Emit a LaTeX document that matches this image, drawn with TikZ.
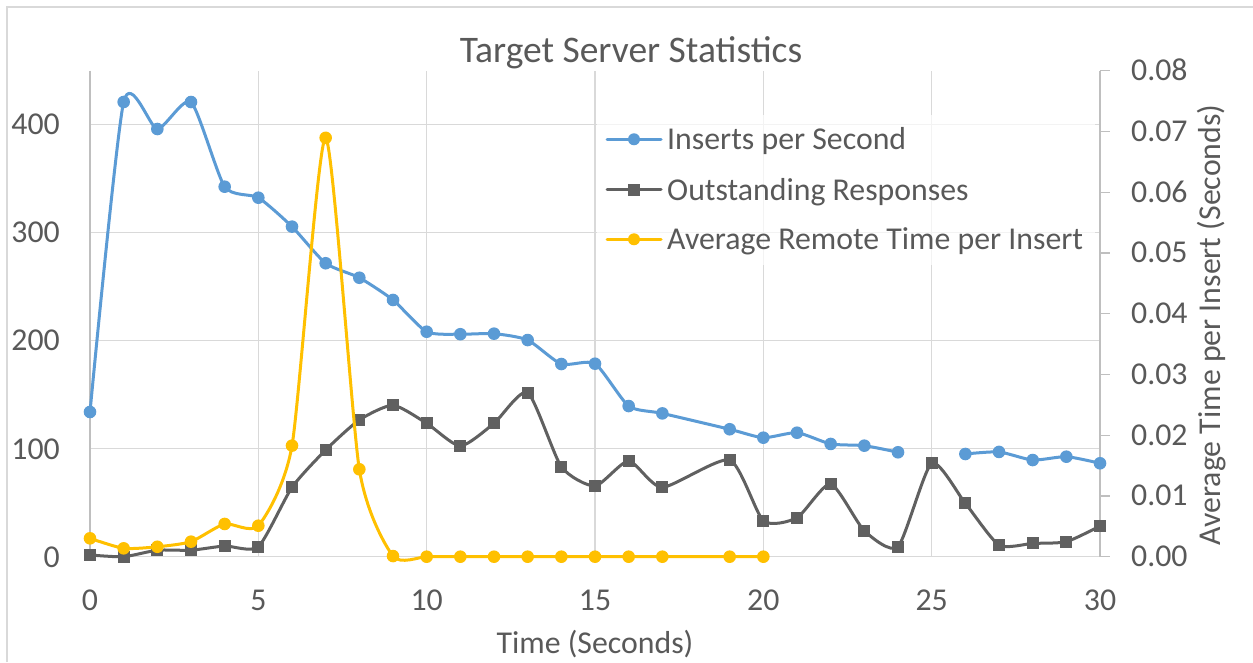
\documentclass[tikz,border=0pt]{standalone}
\usepackage{fontspec}
\setmainfont{Carlito}
\definecolor{serA}{HTML}{5B9BD5}
\definecolor{serB}{HTML}{606060}
\definecolor{serC}{HTML}{FFC000}
\definecolor{gridc}{HTML}{D9D9D9}
\definecolor{axisc}{HTML}{BFBFBF}
\definecolor{txt}{HTML}{595959}
\begin{document}
\begin{tikzpicture}[x=1pt,y=1pt,
  lbl/.style={font=\fontsize{31.8}{36}\selectfont, text=txt, inner sep=0pt},
  ttl/.style={font=\fontsize{37.5}{42}\selectfont, text=txt, inner sep=0pt},
  gridline/.style={draw=gridc, line width=1.3pt},
  axisline/.style={draw=axisc, line width=1.3pt},
  serline/.style={line width=3pt, line cap=round, line join=round},
]
\useasboundingbox (0,0) rectangle (1253,662);
\fill[white] (0,0) rectangle (1253,662);
\draw[draw=gridc, line width=1.5pt] (7,0) -- (7,655) -- (1253,655);
% title
\node[ttl, anchor=base] (title) at (631,599.3) {Target Server Statistics};
\begin{scope}[shift={(90,105.3)}, x=33.667pt, y=1.08pt]
  \foreach \v in {100,200,300,400} \draw[gridline] (0,\v) -- (30,\v);
  \foreach \t in {5,10,15,20,25} \draw[gridline] (\t,0) -- (\t,450);
  \draw[axisline] (0,450) -- (0,0);
  \draw[gridline] (0,0) -- (30,0);
  \draw[axisline] (30,0) -- (30,450);
  \foreach \k in {0,...,8} \draw[axisline] (30,56.25*\k) -- ++(10pt,0pt);
  % left labels
  \foreach \v in {0,100,200,300,400}
    \path (0,\v) ++(-30pt,-10.3pt) node[lbl, anchor=base east] {\v};
  % bottom labels
  \foreach \t in {0,5,10,15,20,25,30}
    \path (\t,0) ++(0pt,-53.3pt) node[lbl, anchor=base] {\t};
  % right labels
  \foreach \k in {0,...,8}
    \path (30,56.25*\k) ++(31pt,-10pt) node[lbl, anchor=base west] {0.0\k};
\end{scope}
% legend background
\fill[white, opacity=0.7] (597,397) rectangle (1095,547);
\begin{scope}[shift={(90,105.3)}, x=33.667pt, y=1.08pt]
  \draw[serline, serA] plot[smooth, tension=0.38] coordinates {
    (0,134) (1,421) (2,396) (3,421) (4,342.6) (5,332.4) (6,305.6) (7,271.7)
    (8,258.3) (9,237.7) (10,208.3) (11,206) (12,206.5) (13,200.6) (14,178.4)
    (15,178.7) (16,139.5) (17,132.7) (19,118) (20,110.2) (21,114.8) (22,104.4)
    (23,102.8) (24,96.7)};
  \draw[serline, serA] plot[smooth, tension=0.38] coordinates {
    (26,95.1) (27,97) (28,89.5) (29,92.6) (30,86.5)};
  \foreach \p in {(0,134),(1,421),(2,396),(3,421),(4,342.6),(5,332.4),(6,305.6),
    (7,271.7),(8,258.3),(9,237.7),(10,208.3),(11,206),(12,206.5),(13,200.6),
    (14,178.4),(15,178.7),(16,139.5),(17,132.7),(19,118),(20,110.2),(21,114.8),
    (22,104.4),(23,102.8),(24,96.7),(26,95.1),(27,97),(28,89.5),(29,92.6),(30,86.5)}
    \fill[serA] \p circle[radius=6.3pt];
  \draw[serline, serB] plot[smooth, tension=0.38] coordinates {
    (0,1.6) (1,0) (2,6) (3,6) (4,9.9) (5,9.3) (6,64.2) (7,98.8) (8,126.6)
    (9,140.2) (10,123.5) (11,102.5) (12,123.5) (13,151.9) (14,83.3) (15,65.5)
    (16,88.6) (17,64.2) (19,89.5) (20,33.3) (21,36.1) (22,67.3) (23,24)
    (24,9.3) (25,86.5) (26,49.4) (27,10.8) (28,12.3) (29,13.9) (30,28.4)};
  \foreach \p in {(0,1.6),(1,0),(2,6),(3,6),(4,9.9),(5,9.3),(6,64.2),(7,98.8),
    (8,126.6),(9,140.2),(10,123.5),(11,102.5),(12,123.5),(13,151.9),(14,83.3),
    (15,65.5),(16,88.6),(17,64.2),(19,89.5),(20,33.3),(21,36.1),(22,67.3),(23,24),
    (24,9.3),(25,86.5),(26,49.4),(27,10.8),(28,12.3),(29,13.9),(30,28.4)}
    \fill[serB] \p ++(-6pt,-6pt) rectangle ++(12pt,12pt);
\end{scope}
\begin{scope}[shift={(90,105.3)}, x=33.667pt, y=6080pt]
  \draw[serline, serC] plot[smooth, tension=0.38] coordinates {
    (0,0.00302) (1,0.00138) (2,0.00164) (3,0.00247) (4,0.00538) (5,0.0051)
    (6,0.01826) (7,0.0689) (8,0.01437) (9,0.0001) (10,0) (11,0) (12,0) (13,0)
    (14,0) (15,0) (16,0) (17,0) (19,0) (20,0)};
  \foreach \p in {(0,0.00302),(1,0.00138),(2,0.00164),(3,0.00247),(4,0.00538),
    (5,0.0051),(6,0.01826),(7,0.0689),(8,0.01437),(9,0.0001),(10,0),(11,0),
    (12,0),(13,0),(14,0),(15,0),(16,0),(17,0),(19,0),(20,0)}
    \fill[serC] \p circle[radius=6.3pt];
\end{scope}
% legend
\draw[serline, serA] (607,522.7) -- (661,522.7);
\fill[serA] (634,522.7) circle[radius=6pt];
\node[lbl, anchor=base west] (legA) at (667,512) {Inserts per Second};
\draw[serline, serB] (607,472) -- (661,472);
\fill[serB] (628,466) rectangle (640,478);
\node[lbl, anchor=base west] (legB) at (667,461.3) {Outstanding Responses};
\draw[serline, serC] (607,422.7) -- (661,422.7);
\fill[serC] (634,422.7) circle[radius=6pt];
\node[lbl, anchor=base west] (legC) at (667,412) {Average Remote Time per Insert};
% axis titles
\node[lbl, anchor=base] (xtitle) at (595,9) {Time (Seconds)};
\node[lbl, rotate=90] (ytitle) at (1212,337) {Average Time per Insert (Seconds)};
\end{tikzpicture}
\end{document}
